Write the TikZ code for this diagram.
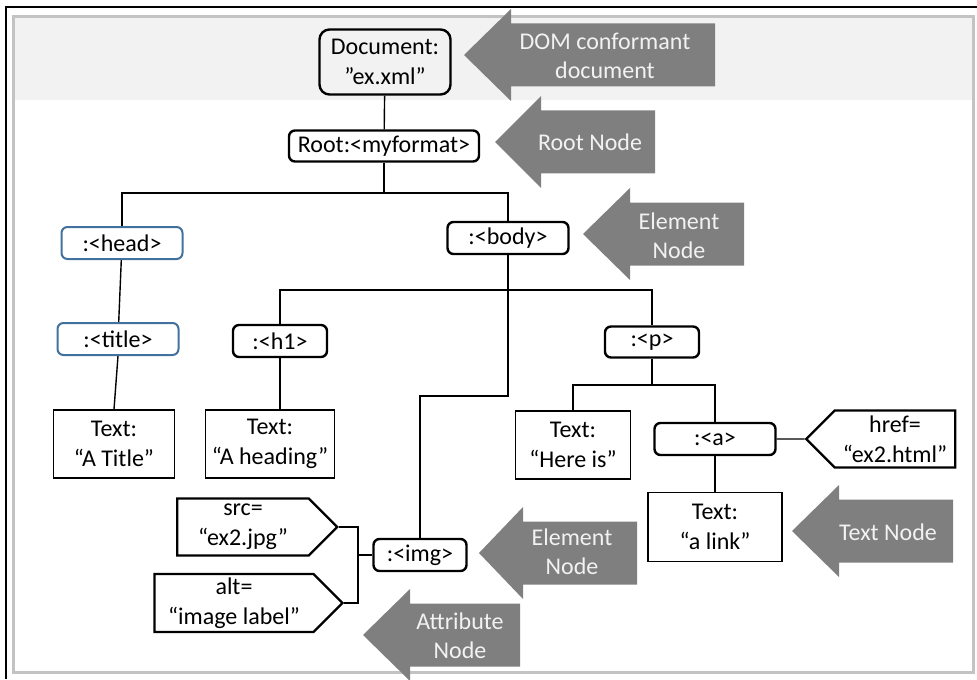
\documentclass[tikz,border=0pt]{standalone}
\usepackage{fontspec}
\setmainfont{Carlito}
\usetikzlibrary{shapes.symbols}

\definecolor{callgray}{HTML}{7F7F7F}
\definecolor{headblue}{HTML}{41719C}
\definecolor{bandgray}{HTML}{F2F2F2}
\definecolor{framegray}{HTML}{C3C3C3}

% left-pointing gray callout: tip x, tip y, head base x, tail x
\newcommand{\grayarrow}[4]{%
  \fill[callgray] (#1,#2) -- (#3,#2-46) -- (#3,#2-31.5) -- (#4,#2-31.5)
    -- (#4,#2+31.5) -- (#3,#2+31.5) -- (#3,#2+46) -- cycle;}

\begin{document}
\begin{tikzpicture}[
  x=0.5pt, y=-0.5pt,
  font=\fontsize{12}{15}\selectfont,
  elem/.style={rectangle, draw, rounded corners=3pt, line width=1.2pt, minimum height=16pt, inner sep=0pt, align=center},
  headelem/.style={elem, draw=headblue, line width=1pt},
  textbox/.style={rectangle, draw, line width=0.7pt, minimum height=34pt, inner sep=0pt, align=center},
  attr/.style={signal, signal pointer angle=90, draw, line width=1.2pt, minimum height=28.5pt, inner sep=0pt, align=center},
  link/.style={line width=0.7pt},
  calltext/.style={text=bandgray, align=center, font=\fontsize{12}{14.5}\selectfont}
]
\useasboundingbox (0,0) rectangle (977,679);

% frame and top band
\fill[bandgray] (13,17) rectangle (973,100);
\draw[framegray, line width=1.5pt] (13,17) rectangle (973,672);
\draw[line width=1pt] (6,679) -- (6,7) -- (977,7);

% tree nodes
\node[elem, rounded corners=5pt, minimum width=65.5pt, minimum height=32.5pt] (doc) at (385,62) {Document:\\”ex.xml”};
\node[elem, minimum width=95pt, minimum height=15.5pt] (root) at (384,146) {Root:<myformat>};
\node[headelem, minimum width=60.5pt] (head) at (122,243) {:<head>};
\node[headelem, minimum width=60.5pt] (title) at (118,339) {:<title>};
\node[elem, minimum width=60.5pt] (body) at (508,238) {:<body>};
\node[elem, minimum width=47pt] (h1) at (280,341) {:<h1>};
\node[elem, minimum width=47pt, minimum height=15.5pt] (p) at (652,342) {:<p>};
\node[elem, minimum width=60.5pt] (a) at (715,439) {:<a>};
\node[elem, minimum width=46.5pt] (img) at (420,555) {:<img>};

\node[textbox, minimum width=60.5pt] (txtTitle) at (114,444) {Text:\\“A Title”};
\node[textbox, minimum width=64.5pt] (txtHeading) at (270,444) {Text:\\“A heading”};
\node[textbox, minimum width=57.5pt] (txtHere) at (573,445) {Text:\\“Here is”};
\node[textbox, minimum width=67pt, minimum height=34.5pt] (txtLink) at (715,527) {Text:\\“a link”};

\node[attr, signal to=west, minimum width=74.5pt] (href) at (895,439) {href=\\“ex2.html”};
\node[attr, signal to=east, minimum width=80pt] (src) at (243,527) {src=\\“ex2.jpg”};
\node[attr, signal to=east, minimum width=94pt, minimum height=29pt] (alt) at (234,603) {alt=\\“image label”};

% connectors
\coordinate (rootbus) at (384,193);
\coordinate (bodybus) at (508,290);
\coordinate (imgbend) at (508,396);
\coordinate (pbus) at (652,385);
\coordinate (attrbus) at (358,555);

\draw[link] (doc) -- (root);
\draw[link] (root.south) -- (rootbus) -| (head.north);
\draw[link] (rootbus) -| (body.north);
\draw[link] (head) -- (title);
\draw[link] (title.south) -- (txtTitle.north);
\draw[link] (body.south) -- (bodybus) -| (h1.north);
\draw[link] (bodybus) -| (p.north);
\draw[link] (bodybus) -- (imgbend) -| (img.north);
\draw[link] (h1.south) -- (h1.south |- txtHeading.north);
\draw[link] (p.south) -- (pbus) -| (txtHere.north);
\draw[link] (pbus) -| (a.north);
\draw[link] (a) -- (href);
\draw[link] (a) -- (txtLink);
\draw[link] (img.west) -- (attrbus);
\draw[link] (src.east) -| (attrbus) |- (alt.east);

% gray callouts
\grayarrow{464}{55}{511}{715}
\grayarrow{495}{142}{541}{655}
\grayarrow{583}{234}{630}{744}
\grayarrow{479}{553}{523}{637}
\grayarrow{792}{531}{839}{953}
\grayarrow{363}{635}{410}{520}

\node[calltext] (domlbl) at (605,56) {DOM conformant\\document};
\node[calltext] (rootlbl) at (590,142) {Root Node};
\node[calltext] (elemlbl) at (679,236) {Element\\Node};
\node[calltext] (imglbl) at (572,552) {Element\\Node};
\node[calltext] (textlbl) at (888,532) {Text Node};
\node[calltext] (attrlbl) at (460,636) {Attribute\\Node};
\end{tikzpicture}
\end{document}
